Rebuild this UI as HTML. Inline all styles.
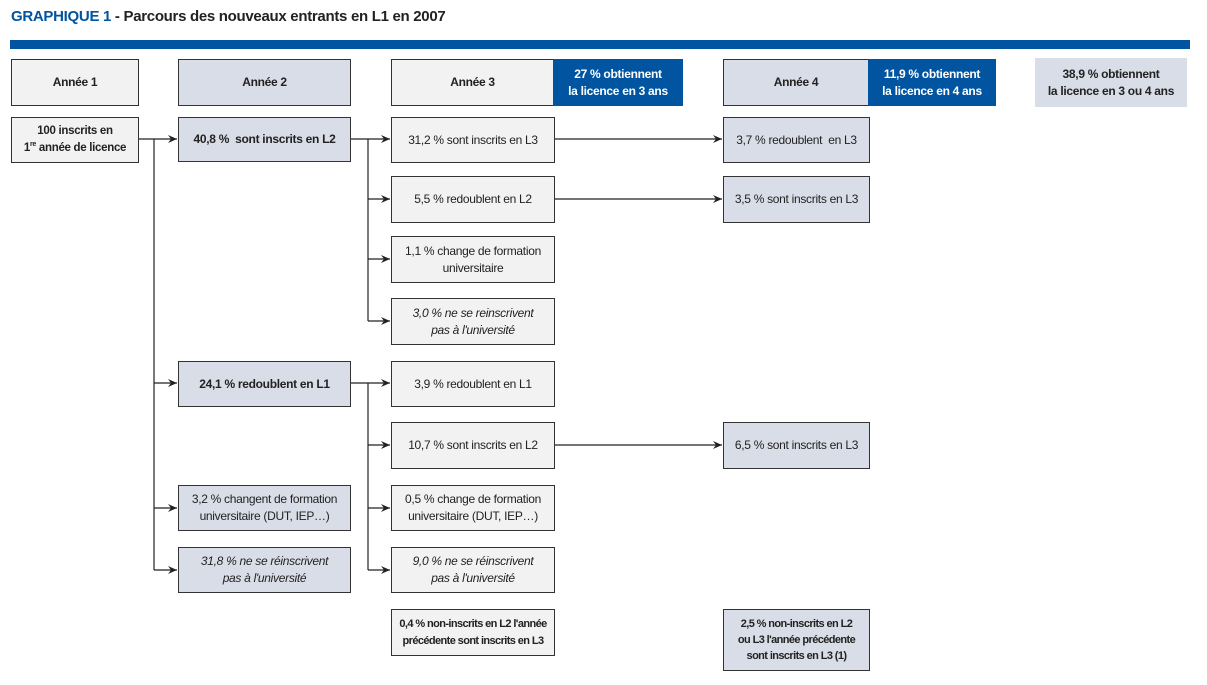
<!DOCTYPE html>
<html><head><meta charset="utf-8"><style>
body{margin:0;width:1207px;height:685px;background:#fff;position:relative;overflow:hidden;font-family:"Liberation Sans Narrow","Liberation Sans",sans-serif;color:#222}
.b{position:absolute;box-sizing:border-box;border:1px solid #333;display:flex;align-items:center;justify-content:center;text-align:center;font-size:12px;line-height:17px;background:#f2f2f2;letter-spacing:-0.3px}
.d{background:#d9dde7}
.bold{font-weight:bold}
.i{font-style:italic}
.blue{background:#0054a0;color:#fff;font-weight:bold;border:none}
svg{position:absolute;left:0;top:0}
</style></head><body>
<div style="position:absolute;left:11px;top:8px;font-size:15px;font-weight:bold;letter-spacing:-0.3px"><span style="color:#0054a0">GRAPHIQUE 1</span> - Parcours des nouveaux entrants en L1 en 2007</div>
<div style="position:absolute;left:10px;top:40px;width:1180px;height:9px;background:#0054a0"></div>

<div class="b bold" style="left:11px;top:59px;width:128px;height:47px">Année 1</div>
<div class="b bold d" style="left:178px;top:59px;width:173px;height:47px">Année 2</div>
<div class="b bold" style="left:391px;top:59px;width:163px;height:47px">Année 3</div>
<div class="b blue" style="left:553px;top:59px;width:130px;height:47px"><span>27 % obtiennent<br>la licence en 3 ans</span></div>
<div class="b bold d" style="left:723px;top:59px;width:146px;height:47px">Année 4</div>
<div class="b blue" style="left:868px;top:59px;width:128px;height:47px"><span>11,9 % obtiennent<br>la licence en 4 ans</span></div>
<div class="b bold d" style="left:1035px;top:58px;width:152px;height:49px;border:none"><span>38,9 % obtiennent<br>la licence en 3 ou 4 ans</span></div>

<div class="b bold" style="left:11px;top:117px;width:128px;height:46px;font-size:11.5px"><span>100 inscrits en<br>1<sup style="font-size:7px;line-height:0">re</sup> année de licence</span></div>
<div class="b bold d" style="left:178px;top:117px;width:173px;height:45px">40,8 %&nbsp; sont inscrits en L2</div>
<div class="b bold d" style="left:178px;top:361px;width:173px;height:46px">24,1 % redoublent en L1</div>
<div class="b d" style="left:178px;top:485px;width:173px;height:46px"><span>3,2 % changent de formation<br>universitaire (DUT, IEP…)</span></div>
<div class="b d i" style="left:178px;top:547px;width:173px;height:46px"><span>31,8 % ne se réinscrivent<br>pas à l'université</span></div>

<div class="b" style="left:391px;top:117px;width:164px;height:46px">31,2 % sont inscrits en L3</div>
<div class="b" style="left:391px;top:176px;width:164px;height:47px">5,5 % redoublent en L2</div>
<div class="b" style="left:391px;top:236px;width:164px;height:47px"><span>1,1 % change de formation<br>universitaire</span></div>
<div class="b i" style="left:391px;top:298px;width:164px;height:47px"><span>3,0 % ne se reinscrivent<br>pas à l'université</span></div>
<div class="b" style="left:391px;top:361px;width:164px;height:46px">3,9 % redoublent en L1</div>
<div class="b" style="left:391px;top:422px;width:164px;height:47px">10,7 % sont inscrits en L2</div>
<div class="b" style="left:391px;top:485px;width:164px;height:46px"><span>0,5 % change de formation<br>universitaire (DUT, IEP…)</span></div>
<div class="b i" style="left:391px;top:547px;width:164px;height:46px"><span>9,0 % ne se réinscrivent<br>pas à l'université</span></div>
<div class="b bold" style="left:391px;top:609px;width:164px;height:47px;font-size:11px;letter-spacing:-0.6px"><span>0,4 % non-inscrits en L2 l'année<br>précédente sont inscrits en L3</span></div>

<div class="b d" style="left:723px;top:117px;width:147px;height:46px">3,7 % redoublent&nbsp; en L3</div>
<div class="b d" style="left:723px;top:176px;width:147px;height:47px">3,5 % sont inscrits en L3</div>
<div class="b d" style="left:723px;top:422px;width:147px;height:47px">6,5 % sont inscrits en L3</div>
<div class="b d bold" style="left:723px;top:609px;width:147px;height:62px;font-size:11px;line-height:16px;letter-spacing:-0.6px"><span>2,5 % non-inscrits en L2<br>ou L3 l'année précédente<br>sont inscrits en L3 (1)</span></div>

<svg width="1207" height="685">
<defs><marker id="a" markerWidth="10" markerHeight="8" refX="9" refY="4" orient="auto" markerUnits="userSpaceOnUse"><path d="M0,0 L9,4 L0,8 L3,4 Z" fill="#222"/></marker></defs>
<g stroke="#222" stroke-width="1.2" fill="none">
<line x1="139" y1="139" x2="177" y2="139" marker-end="url(#a)"/>
<line x1="154" y1="139" x2="154" y2="570"/>
<line x1="154" y1="383" x2="177" y2="383" marker-end="url(#a)"/>
<line x1="154" y1="508" x2="177" y2="508" marker-end="url(#a)"/>
<line x1="154" y1="570" x2="177" y2="570" marker-end="url(#a)"/>
<line x1="351" y1="139" x2="390" y2="139" marker-end="url(#a)"/>
<line x1="368" y1="139" x2="368" y2="321"/>
<line x1="368" y1="199" x2="390" y2="199" marker-end="url(#a)"/>
<line x1="368" y1="259" x2="390" y2="259" marker-end="url(#a)"/>
<line x1="368" y1="321" x2="390" y2="321" marker-end="url(#a)"/>
<line x1="351" y1="383" x2="390" y2="383" marker-end="url(#a)"/>
<line x1="368" y1="383" x2="368" y2="570"/>
<line x1="368" y1="445" x2="390" y2="445" marker-end="url(#a)"/>
<line x1="368" y1="508" x2="390" y2="508" marker-end="url(#a)"/>
<line x1="368" y1="570" x2="390" y2="570" marker-end="url(#a)"/>
<line x1="555" y1="139" x2="722" y2="139" marker-end="url(#a)"/>
<line x1="555" y1="199" x2="722" y2="199" marker-end="url(#a)"/>
<line x1="555" y1="445" x2="722" y2="445" marker-end="url(#a)"/>
</g></svg>
</body></html>
